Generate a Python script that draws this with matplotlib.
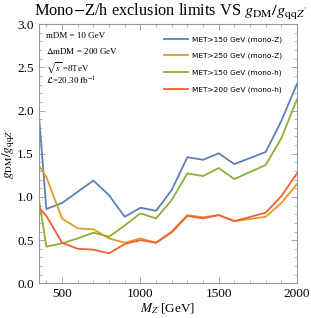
import matplotlib
matplotlib.use("Agg")
import matplotlib.pyplot as plt
from matplotlib.ticker import MultipleLocator

plt.rcParams['mathtext.fontset'] = 'stix'
plt.rcParams['font.family'] = ['Liberation Serif', 'DejaVu Serif']

mass = [350, 400, 500, 600, 700, 800, 900, 1000, 1100, 1200, 1300, 1400, 1500, 1600, 1800, 1900, 2000]
met150_monoZ = [2.00, 0.86, 0.93, 1.06, 1.19, 1.02, 0.77, 0.875, 0.84, 1.08, 1.46, 1.43, 1.505, 1.38, 1.52, 1.88, 2.31]
met250_monoZ = [1.37, 1.23, 0.75, 0.636, 0.625, 0.52, 0.47, 0.52, 0.47, 0.60, 0.79, 0.765, 0.79, 0.72, 0.77, 0.93, 1.15]
met150_monoh = [1.00, 0.424, 0.463, 0.52, 0.586, 0.54, 0.67, 0.81, 0.752, 0.964, 1.273, 1.242, 1.334, 1.207, 1.37, 1.68, 2.13]
met200_monoh = [0.88, 0.78, 0.47, 0.40, 0.39, 0.347, 0.455, 0.50, 0.47, 0.59, 0.78, 0.752, 0.79, 0.72, 0.817, 1.01, 1.273]

labels = ["MET>150 GeV (mono-Z)", "MET>250 GeV (mono-Z)",
          "MET>150 GeV (mono-h)", "MET>200 GeV (mono-h)"]
colors = ["#5E81B5", "#E19C24", "#8FB032", "#EB6235"]

fig = plt.figure(figsize=(3.11, 3.18), dpi=100)
ax = fig.add_axes([0.124, 0.109, 0.831, 0.815])

for y, lab, c in zip([met150_monoZ, met250_monoZ, met150_monoh, met200_monoh], labels, colors):
    ax.plot(mass, y, color=c, lw=1.3, label=lab)

ax.set_xlim(350, 2000)
ax.set_ylim(0, 3.0)
ax.xaxis.set_major_locator(MultipleLocator(500))
ax.xaxis.set_minor_locator(MultipleLocator(100))
ax.yaxis.set_major_locator(MultipleLocator(0.5))
ax.yaxis.set_minor_locator(MultipleLocator(0.1))
ax.tick_params(which='both', direction='in', top=True, right=True, color='#999999', labelsize=9.5)
ax.tick_params(which='major', length=4, width=0.6)
ax.tick_params(which='minor', length=2, width=0.5)
for s in ax.spines.values():
    s.set_color('#999999')
    s.set_linewidth(0.8)

ax.set_xlabel(r"$M_{Z'}$[GeV]", fontsize=9.5, labelpad=1)
ax.set_ylabel(r"$g_{\rm DM}/g_{{\rm qq}Z'}$", fontsize=9.5, labelpad=0)
fig.suptitle(r"Mono$-$Z/h exclusion limits VS $g_{\rm DM}/g_{{\rm qq}Z'}$", fontsize=11.8, x=0.55, y=0.995)

txt = ["mDM = 10 GeV", r"$\Delta$mDM = 200 GeV", r"$\sqrt{s}$ =8TeV", r"$\mathcal{L}$=20.30 fb$^{-1}$"]
for i, t in enumerate(txt):
    ax.text(0.03, 0.968 - i * 0.054, t, transform=ax.transAxes, fontsize=6.5, va='top', ha='left')

leg = ax.legend(loc='upper left', bbox_to_anchor=(0.475, 0.965), frameon=False,
                prop={'family': 'DejaVu Sans', 'size': 5.3}, handlelength=3.2,
                handletextpad=0.55, labelspacing=1.35, borderaxespad=0)

fig.savefig("out.png", dpi=100)
